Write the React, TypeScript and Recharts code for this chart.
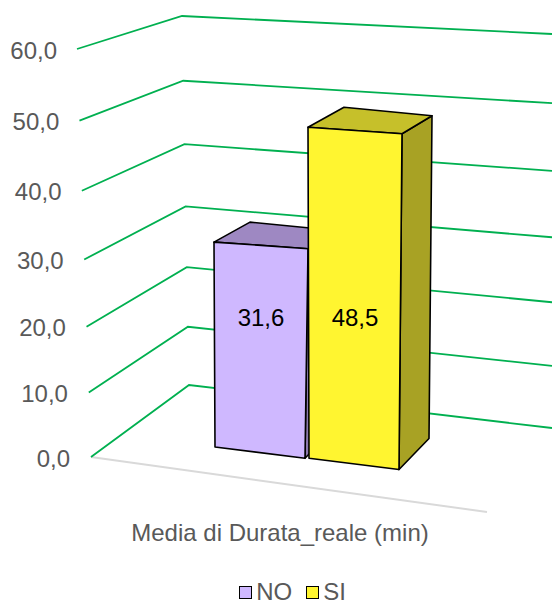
import { Bar, BarChart, CartesianGrid, LabelList, Legend, XAxis, YAxis } from 'recharts'

const categories = ['Media di Durata_reale (min)']
const noValues = [31.6]
const siValues = [48.5]
const yTicks = [0, 10, 20, 30, 40, 50, 60]

const FONT = '"Liberation Sans", Arial, sans-serif'
const GRID_TOP = 49
const GRID_BOTTOM = 457

const SERIES = [
  { key: 'NO', front: '#CFB8FF', top: '#9E88C2', side: '#8C79AE' },
  { key: 'SI', front: '#FFF530', top: '#C6C02A', side: '#A8A224' },
]

const data = categories.map((name, i) => ({ name, NO: noValues[i], SI: siValues[i] }))

const fmt = (v: number) => v.toFixed(1).replace('.', ',')

// fake perspective: 0 at the top of the grid, 1 at the bottom
const depth = (y: number) => (y - GRID_TOP) / (GRID_BOTTOM - GRID_TOP)
// the wall lines bunch up a little towards the floor
const warp = (y: number) => {
  const t = depth(y)
  return y + 26 * t * (1 - t)
}

function GridLine(p: any) {
  const y = warp(p.y1)
  const t = depth(y)
  const fx = 77 + 14 * t
  const bx = 182 + 7 * t
  const by = y - (33 + 39 * t)
  const ry = by + 18 + 25 * t
  const floor = Math.abs(y - GRID_BOTTOM) < 1
  return (
    <g key={p.key}>
      {floor && <line x1={fx} y1={y} x2={487} y2={512} stroke="#D9D9D9" strokeWidth={2} />}
      <polyline
        points={`${fx},${y} ${bx},${by} 552,${ry}`}
        fill="none"
        stroke="#00B050"
        strokeWidth={1.8}
      />
    </g>
  )
}

function YTick({ y, payload }: any) {
  const yy = warp(y)
  const t = depth(yy)
  return (
    <text
      x={57 + 13 * t}
      y={yy + 1}
      textAnchor="end"
      dominantBaseline="central"
      fill="#595959"
      fontSize={24}
      fontFamily={FONT}
    >
      {fmt(payload.value)}
    </text>
  )
}

function XTick({ x, y, payload }: any) {
  return (
    <text
      x={x - 28}
      y={y + 67}
      textAnchor="middle"
      dominantBaseline="central"
      fill="#595959"
      fontSize={24}
      fontFamily={FONT}
    >
      {payload.value}
    </text>
  )
}

function Box3D(props: any) {
  const { x, y, width: w, height: h, colors } = props
  const base = y + h
  const fy = base - 10 + (x - 214) * 0.12
  const tl = [x, y]
  const tr = [x + w, y + 0.07 * w]
  const br = [x + w - 3, fy + 0.12 * w]
  const bl = [x + 1, fy]
  const pts = (a: number[][]) => a.map((q) => q.join(',')).join(' ')
  return (
    <g stroke="#000" strokeWidth={1.6} strokeLinejoin="round">
      <polygon
        points={pts([tr, [tr[0] + 30, tr[1] - 18], [br[0] + 30, br[1] - 31], br])}
        fill={colors.side}
      />
      <polygon
        points={pts([tl, [tl[0] + 36, tl[1] - 20], [tr[0] + 30, tr[1] - 18], tr])}
        fill={colors.top}
      />
      <polygon points={pts([tl, tr, br, bl])} fill={colors.front} />
    </g>
  )
}

function BarLabel({ x, y, width, height, value }: any) {
  return (
    <text
      x={x + width / 2}
      y={y + height - 140}
      textAnchor="middle"
      dominantBaseline="central"
      fill="#000"
      fontSize={24}
      fontFamily={FONT}
    >
      {fmt(value)}
    </text>
  )
}

function LegendBox() {
  return (
    <div
      style={{
        display: 'flex',
        justifyContent: 'center',
        alignItems: 'center',
        height: 26,
        transform: 'translateX(30px)',
        fontFamily: FONT,
        fontSize: 24,
        color: '#595959',
      }}
    >
      {SERIES.map((s) => (
        <span key={s.key} style={{ display: 'flex', alignItems: 'center', margin: '0 7px' }}>
          <span
            style={{
              width: 11,
              height: 11,
              background: s.front,
              border: '1.5px solid #000',
              marginRight: 4,
            }}
          />
          {s.key}
        </span>
      ))}
    </div>
  )
}

export default function App() {
  return (
    <div style={{ position: 'absolute', left: 0, top: 0, width: 552, height: 606, background: '#fff' }}>
      <BarChart
        width={552}
        height={606}
        data={data}
        margin={{ top: GRID_TOP, right: 27, bottom: 0, left: 0 }}
        barSize={94}
        barGap={0}
      >
        <CartesianGrid vertical={false} horizontal={GridLine} />
        <XAxis dataKey="name" axisLine={false} tickLine={false} height={123} tick={<XTick />} />
        <YAxis
          domain={[0, 60]}
          ticks={yTicks}
          width={91}
          axisLine={false}
          tickLine={false}
          tick={<YTick />}
        />
        {SERIES.map((s) => (
          <Bar
            key={s.key}
            dataKey={s.key}
            isAnimationActive={false}
            shape={(p: any) => <Box3D {...p} colors={s} />}
          >
            <LabelList dataKey={s.key} content={<BarLabel />} />
          </Bar>
        ))}
        <Legend verticalAlign="bottom" content={<LegendBox />} wrapperStyle={{ bottom: 1 }} />
      </BarChart>
    </div>
  )
}
